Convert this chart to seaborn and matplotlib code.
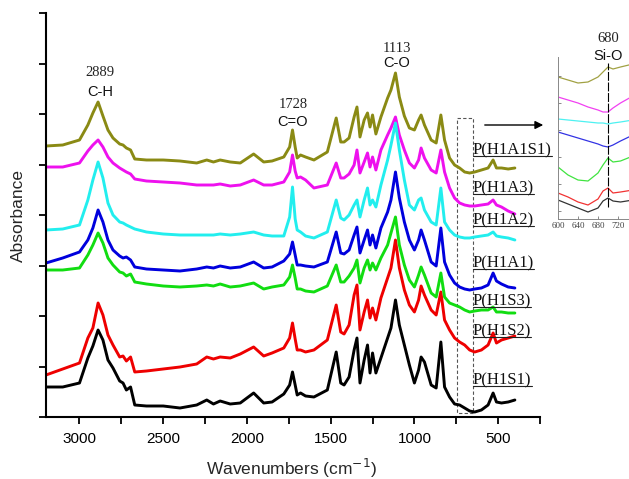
import numpy as np
import pandas as pd
import matplotlib
matplotlib.use("Agg")
import matplotlib.pyplot as plt
import seaborn as sns
from matplotlib.ticker import FixedLocator
from matplotlib.lines import Line2D
from matplotlib.patches import Rectangle, FancyArrowPatch

# ---------------- data ----------------
wavenumbers = [3200, 3100, 3000, 2950, 2920, 2889, 2860, 2830, 2800, 2760,
               2740, 2720, 2695, 2670, 2600, 2500, 2400, 2300, 2240, 2200,
               2160, 2100, 2040, 1960, 1900, 1850, 1780, 1745, 1728, 1712,
               1700, 1680, 1650, 1600, 1520, 1467, 1440, 1420, 1390, 1360,
               1343, 1325, 1300, 1280, 1265, 1250, 1230, 1200, 1160, 1140,
               1113, 1090, 1060, 1030, 1000, 975, 960, 940, 900, 870,
               842, 820, 790, 760, 730, 700, 670, 640, 600, 560,
               530, 510, 480, 440, 400]

abs_H1S1 = [30, 30, 34, 59, 71, 87, 77, 57, 49, 36,
            34, 27, 30, 12, 11, 11, 9, 12, 17, 13,
            16, 13, 14, 24, 14, 15, 23, 32, 45, 32,
            22, 24, 21, 20, 27, 65, 34, 32, 40, 67,
            79, 34, 57, 72, 44, 64, 44, 59, 79, 89,
            117, 92, 72, 52, 34, 47, 60, 55, 32, 29,
            75, 30, 20, 13, 12, 9, 6, 5, 7, 12,
            24, 15, 14, 15, 17]

abs_H1S2 = [42, 48, 54, 79, 89, 114, 102, 82, 72, 60,
            61, 56, 60, 45, 46, 48, 50, 53, 60, 58,
            60, 59, 63, 70, 61, 64, 69, 79, 94, 78,
            67, 67, 65, 67, 77, 112, 85, 83, 92, 122,
            132, 87, 105, 117, 99, 109, 97, 119, 139, 149,
            177, 149, 127, 112, 105, 117, 131, 122, 107, 102,
            125, 97, 87, 79, 75, 72, 67, 65, 67, 72,
            84, 74, 77, 79, 81]

abs_H1S3 = [147, 147, 149, 162, 172, 184, 174, 159, 152, 145,
            144, 141, 143, 135, 133, 131, 130, 131, 132, 131,
            133, 130, 131, 134, 128, 130, 132, 140, 152, 139,
            128, 128, 126, 125, 131, 152, 135, 135, 141, 149,
            157, 134, 149, 157, 147, 154, 147, 159, 172, 184,
            200, 172, 152, 137, 130, 142, 150, 142, 124, 120,
            144, 120, 114, 112, 110, 107, 105, 106, 107, 107,
            110, 105, 105, 104, 104]

abs_H1A1 = [154, 159, 165, 177, 189, 207, 195, 177, 167, 161,
            159, 160, 157, 150, 148, 147, 146, 148, 150, 149,
            151, 149, 150, 155, 149, 150, 156, 163, 175, 162,
            152, 152, 151, 150, 155, 185, 164, 163, 167, 182,
            190, 164, 177, 187, 172, 182, 169, 189, 205, 217,
            245, 219, 195, 177, 167, 177, 187, 177, 155, 151,
            189, 155, 142, 134, 130, 128, 127, 128, 129, 132,
            144, 136, 133, 130, 129]

abs_H1A2 = [187, 188, 192, 217, 237, 255, 239, 214, 202, 195,
            194, 192, 190, 188, 185, 183, 182, 182, 182, 182,
            183, 182, 183, 185, 182, 181, 181, 200, 230, 198,
            187, 185, 181, 179, 185, 217, 199, 197, 202, 212,
            217, 200, 217, 229, 212, 217, 210, 232, 257, 272,
            294, 267, 237, 212, 207, 217, 219, 207, 195, 192,
            229, 195, 187, 182, 180, 179, 179, 180, 181, 182,
            185, 181, 180, 179, 177]

abs_H1A3 = [250, 250, 254, 266, 272, 277, 270, 260, 254, 249,
            247, 245, 243, 238, 236, 235, 234, 232, 232, 232,
            233, 231, 232, 237, 232, 232, 235, 245, 262, 246,
            239, 240, 237, 229, 232, 254, 239, 239, 243, 252,
            267, 244, 255, 264, 250, 260, 247, 267, 282, 289,
            300, 282, 267, 254, 249, 257, 269, 259, 247, 244,
            267, 245, 229, 219, 214, 212, 211, 211, 212, 213,
            217, 212, 210, 206, 203]

abs_H1A1S1 = [271, 272, 277, 292, 304, 315, 301, 287, 279, 273,
              272, 269, 267, 258, 257, 257, 256, 254, 257, 255,
              257, 255, 254, 263, 255, 256, 260, 270, 287, 270,
              259, 262, 260, 257, 265, 299, 275, 275, 279, 300,
              310, 280, 297, 304, 290, 302, 283, 300, 319, 327,
              344, 320, 301, 289, 287, 297, 302, 292, 277, 274,
              302, 277, 259, 252, 249, 245, 244, 245, 247, 249,
              257, 249, 249, 248, 249]

# inset (600-750 cm-1, Si-O region)
inset_wn = [600, 620, 640, 660, 680, 690, 700, 710, 725, 750]
inset_H1S1 = [19, 15, 11, 7, 11, 18, 21, 18, 17, 19]
inset_H1S2 = [26, 22, 17, 14, 20, 28, 31, 26, 27, 29]
inset_H1S3 = [52, 44, 39, 38, 46, 54, 61, 57, 58, 63]
inset_H1A1 = [87, 84, 81, 78, 75, 73, 72, 74, 78, 84]
inset_H1A2 = [100, 99, 98, 97, 96, 96, 95, 96, 97, 99]
inset_H1A3 = [122, 119, 116, 112, 109, 107, 107, 111, 116, 123]
inset_H1A1S1 = [142, 139, 136, 137, 142, 147, 152, 150, 152, 155]

sample_names = ["P(H1S1)", "P(H1S2)", "P(H1S3)", "P(H1A1)",
                "P(H1A3)", "P(H1A2)", "P(H1A1S1)"]
sample_colors = ["#000000", "#ee0000", "#11dd11", "#0000dd",
                 "#ee11ee", "#22eeee", "#8a8a14"]
main_series = [abs_H1S1, abs_H1S2, abs_H1S3, abs_H1A1,
               abs_H1A3, abs_H1A2, abs_H1A1S1]
inset_series = [inset_H1S1, inset_H1S2, inset_H1S3, inset_H1A1,
                inset_H1A3, inset_H1A2, inset_H1A1S1]

peak_pos = ["2889", "1728", "1113", "680"]
peak_bond = ["C-H", "C=O", "C-O", "Si-O"]

# ---------------- style ----------------
sns.set_style("ticks")
plt.rcParams["font.family"] = ["Liberation Sans", "DejaVu Sans"]
plt.rcParams["axes.edgecolor"] = "black"

W, H = 629, 479
fig = plt.figure(figsize=(W / 100, H / 100), dpi=100)


def box(x0, y0, x1, y1):
    return [x0 / W, 1 - y1 / H, (x1 - x0) / W, (y1 - y0) / H]


def ftext(px, py, s, **kw):
    return fig.text(px / W, 1 - py / H, s, **kw)


ax = fig.add_axes(box(46, 13, 540, 417))
for name, vals, col in zip(sample_names, main_series, sample_colors):
    df = pd.DataFrame({"wn": wavenumbers, "A": vals})
    sns.lineplot(data=df, x="wn", y="A", ax=ax, color=col, lw=2.1,
                 errorbar=None, legend=False)

ax.set_xlim(3200, 250)
ax.set_ylim(0, 404)
ax.xaxis.set_major_locator(FixedLocator([3000, 2500, 2000, 1500, 1000, 500]))
ax.xaxis.set_minor_locator(FixedLocator([2750, 2250, 1750, 1250, 750, 250]))
ax.set_yticks(np.arange(0, 405, 50.5))
ax.set_yticklabels([])
ax.tick_params(axis="both", which="both", direction="out", length=5,
               width=1.3, colors="black")
ax.tick_params(axis="x", which="major", pad=6, labelsize=11)
ax.set_xlabel("")
ax.set_ylabel("")
sns.despine(ax=ax)
for s in ["left", "bottom"]:
    ax.spines[s].set_linewidth(1.5)

# dashed highlight box and arrow
ax.add_patch(Rectangle((650, 4), 95, 295, fill=False, ls=(0, (3, 2)),
                       lw=0.8, ec="#555555"))
fig.add_artist(FancyArrowPatch(
    posA=(482 / W, 1 - 125 / H), posB=(546 / W, 1 - 125 / H),
    transform=fig.transFigure, arrowstyle="-|>", mutation_scale=12,
    color="black", lw=1.0))

# axis titles
ftext(18, 215, "Absorbance", rotation=90, ha="center", va="center",
      fontsize=12.5)
ftext(292, 475, "Wavenumbers (cm$^{-1}$)", ha="center", va="baseline",
      fontsize=12.5)

# peak annotations
serif = ["Liberation Serif", "DejaVu Serif"]
peak_xy = [(100, 72, 91.5), (293, 104.5, 122), (397, 48, 62.5), (608, 38, 55.5)]
for pos, bond, (px, y1, y2) in zip(peak_pos, peak_bond, peak_xy):
    ftext(px, y1, pos, ha="center", va="center", fontsize=10.5, family=serif,
          color="#222222")
    ftext(px, y2, bond, ha="center", va="center", fontsize=10.5,
          color="#111111")

# sample labels, underlined
label_y = {"P(H1A1S1)": 150, "P(H1A3)": 188, "P(H1A2)": 220, "P(H1A1)": 263,
           "P(H1S3)": 301, "P(H1S2)": 331, "P(H1S1)": 380}
label_texts = []
for name, py in label_y.items():
    t = ftext(473, py, name, ha="left", va="center", fontsize=12,
              family=serif, color="#111111")
    label_texts.append(t)

# inset
axi = fig.add_axes(box(558, 57, 638, 219))
for name, vals, col in zip(sample_names, inset_series, sample_colors):
    df = pd.DataFrame({"wn": inset_wn, "A": vals})
    sns.lineplot(data=df, x="wn", y="A", ax=axi, color=col, lw=0.9,
                 errorbar=None, legend=False, alpha=0.8)
axi.set_xlim(600, 760)
axi.set_ylim(0, 162)
axi.set_xticks([600, 640, 680, 720])
axi.set_yticks(np.arange(8, 162, 27))
axi.set_yticklabels([])
axi.set_xlabel("")
axi.set_ylabel("")
axi.tick_params(axis="both", direction="in", length=2, width=0.6,
                colors="#777777", labelsize=6.5, pad=2)
for lab in axi.get_xticklabels():
    lab.set_family(serif)
    lab.set_color("#444444")
axi.spines["top"].set_visible(False)
axi.spines["right"].set_visible(False)
for s in ["left", "bottom"]:
    axi.spines[s].set_linewidth(0.7)
    axi.spines[s].set_color("#888888")
axi.patch.set_alpha(0)
axi.axvline(700, ymin=0.074, ymax=0.963, color="black", lw=0.8,
            ls=(0, (8, 1.5)))

fig.canvas.draw()
r = fig.canvas.get_renderer()
for t in label_texts:
    bb = t.get_window_extent(renderer=r)
    yline = bb.y0 + 2.0
    fig.add_artist(Line2D([bb.x0 / W, bb.x1 / W], [yline / H, yline / H],
                          transform=fig.transFigure, color="#222222", lw=0.8))

fig.savefig("out.png", dpi=100)
